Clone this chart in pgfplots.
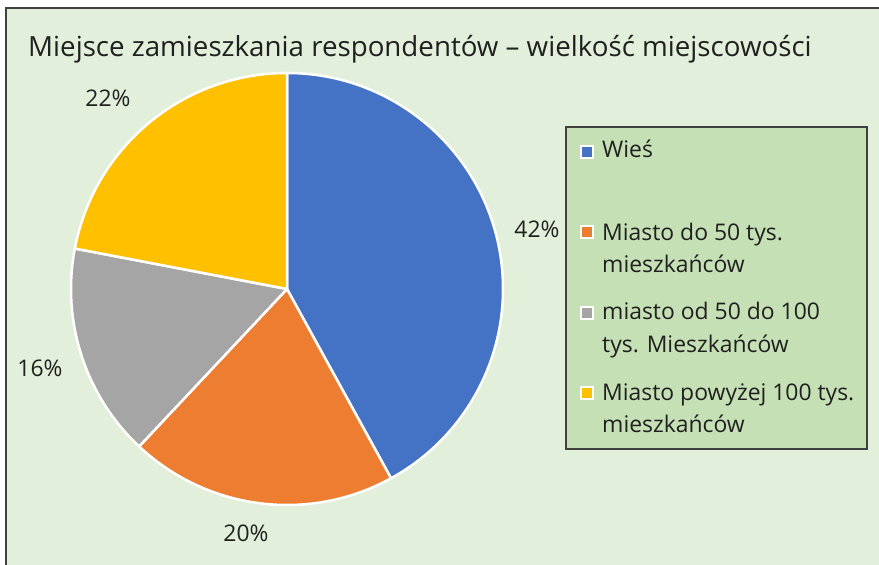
\documentclass[border=0pt]{standalone}
\usepackage{pgfplots}
\pgfplotsset{compat=1.18}
\usepackage{pgfplotstable}
\usepackage{fontspec}
\setmainfont{Open Sans}
\definecolor{bg}{HTML}{E2EFDA}
\definecolor{legbg}{HTML}{C5E0B4}
\definecolor{frame}{HTML}{404040}
\definecolor{txt}{HTML}{202020}
\definecolor{c0}{HTML}{4472C4}
\definecolor{c1}{HTML}{ED7D31}
\definecolor{c2}{HTML}{A5A5A5}
\definecolor{c3}{HTML}{FFC000}
\pgfplotstableread{
idx value
0 42
1 20
2 16
3 22
}\piedata
\xdef\cum{90}%
\foreach \i in {0,...,3}{%
  \pgfplotstablegetelem{\i}{value}\of\piedata%
  \pgfmathsetmacro\e{\cum - 3.6*\pgfplotsretval}%
  \expandafter\xdef\csname sa\i\endcsname{\cum}%
  \expandafter\xdef\csname ea\i\endcsname{\e}%
  \xdef\cum{\e}%
}%
\begin{document}%
\begin{tikzpicture}
\begin{axis}[
  x=1bp, y=1bp, xmin=0, xmax=879, ymin=0, ymax=565,
  hide axis, clip=false, scale only axis,
  at={(0,0)}, anchor=origin,
]
\fill[bg] (axis cs:6,0) rectangle (axis cs:879,557);
\draw[frame, line width=2bp] (axis cs:6,0) -- (axis cs:6,557) -- (axis cs:879,557);
\node[anchor=base west, text=txt, font=\fontsize{27.8}{32}\selectfont, inner sep=0pt] at (axis cs:28,508) {Miejsce zamieszkania respondentów – wielkość miejscowości};
\pgfplotsinvokeforeach{0,...,3}{
  \fill[c#1, draw=white, line width=2.5bp, line join=round] (axis cs:287,276) -- ++(\csname sa#1\endcsname:216bp) arc[start angle=\csname sa#1\endcsname, end angle=\csname ea#1\endcsname, radius=216bp] -- cycle;
}
\begin{scope}[every node/.style={text=txt, font=\fontsize{23}{27}\selectfont}]
\node at (axis cs:108,467) {22\%};
\node at (axis cs:537,336) {42\%};
\node at (axis cs:40,197) {16\%};
\node at (axis cs:246,32) {20\%};
\end{scope}
% legend
\filldraw[fill=legbg, draw=frame, line width=1.5bp] (axis cs:566,438) rectangle (axis cs:867,116);
\filldraw[fill=c0, draw=white, line width=2bp] (axis cs:581,407) rectangle (axis cs:593,419);
\filldraw[fill=c1, draw=white, line width=2bp] (axis cs:581,327) rectangle (axis cs:593,339);
\filldraw[fill=c2, draw=white, line width=2bp] (axis cs:581,246) rectangle (axis cs:593,258);
\filldraw[fill=c3, draw=white, line width=2bp] (axis cs:581,166) rectangle (axis cs:593,178);
\begin{scope}[every node/.style={anchor=base west, text=txt, font=\fontsize{23}{27}\selectfont, inner sep=0pt}]
\node at (axis cs:602,407) {Wieś};
\node at (axis cs:602,325) {Miasto do 50 tys.};
\node at (axis cs:602,293) {mieszkańców};
\node at (axis cs:602,246) {miasto od 50 do 100};
\node at (axis cs:602,213) {tys. Mieszkańców};
\node at (axis cs:602,165) {Miasto powyżej 100 tys.};
\node at (axis cs:602,133) {mieszkańców};
\end{scope}
\end{axis}
\pgfresetboundingbox
\path (0,0) rectangle (879bp,565bp);
\end{tikzpicture}%
\end{document}
